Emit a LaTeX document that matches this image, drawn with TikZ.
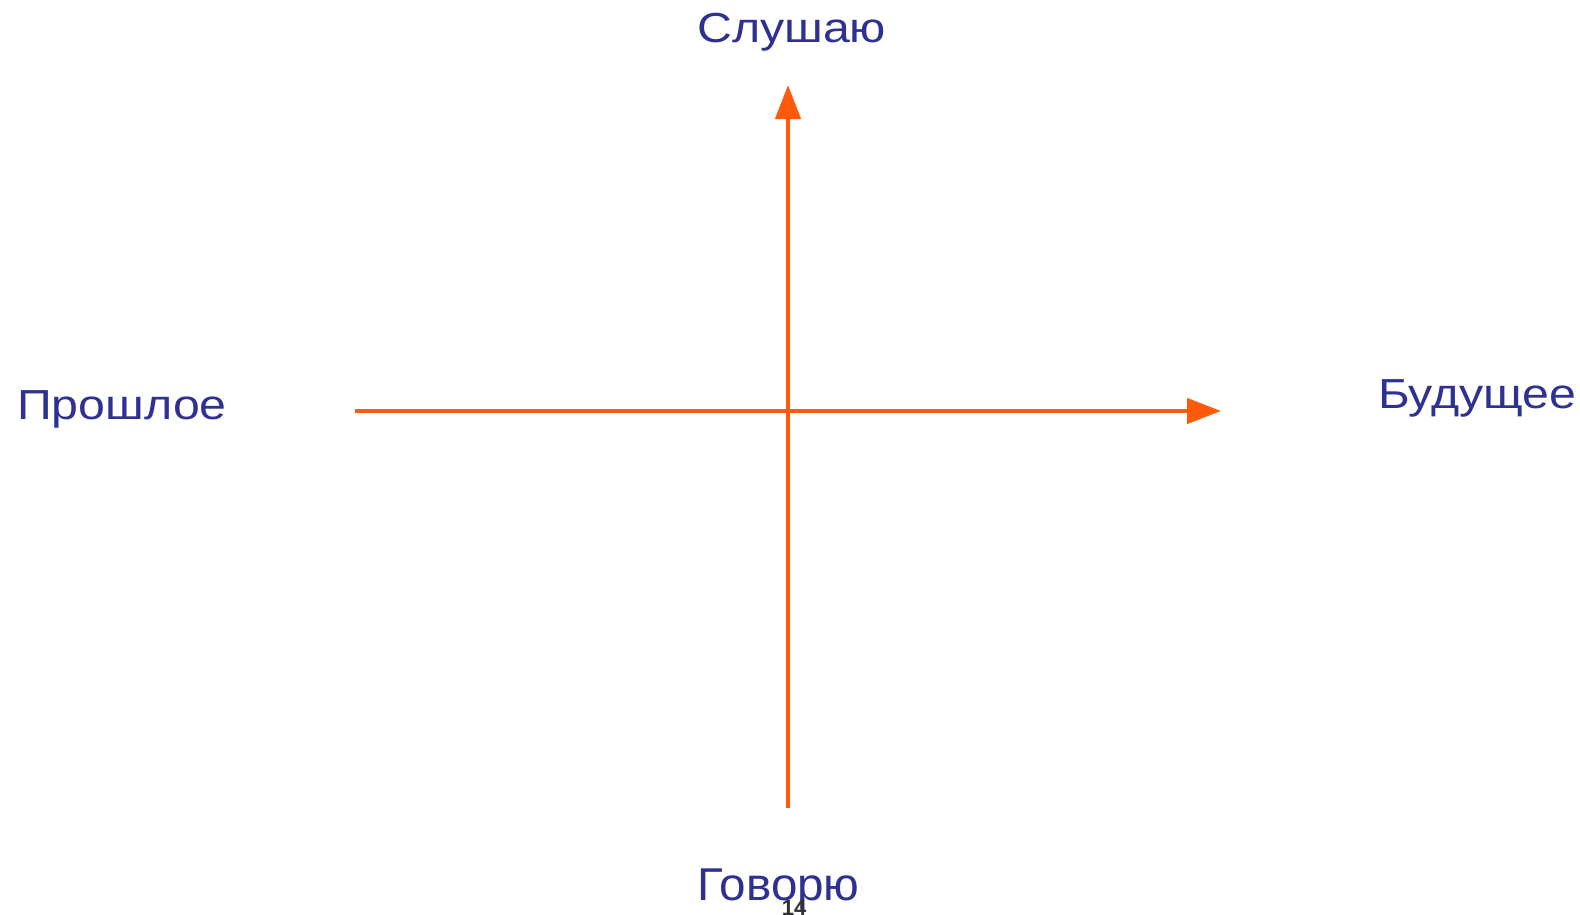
\documentclass[tikz,border=0pt]{standalone}
\usepackage{fontspec}
\setmainfont{Liberation Sans}
\newfontfamily\lblfont[FakeStretch=1.15]{Liberation Sans}
\newfontfamily\lblfontb[FakeStretch=1.035]{Liberation Sans}
\usetikzlibrary{arrows.meta}
\definecolor{axisorange}{HTML}{FF5A0A}
\definecolor{lblblue}{HTML}{2E3192}
\definecolor{numgray}{HTML}{333333}
\tikzset{
  axis/.style={draw=axisorange, line width=4.5pt, -{Triangle[length=34pt,width=25pt]}},
  lbl/.style={text=lblblue, font=\lblfont\fontsize{42}{46}\selectfont, inner sep=0pt, anchor=base west},
  lbltall/.style={lbl, font=\lblfontb\fontsize{46}{50}\selectfont},
  pagenum/.style={text=numgray, font=\bfseries\fontsize{22}{24}\selectfont, inner sep=0pt}
}
\begin{document}
\begin{tikzpicture}[x=1pt,y=-1pt]
\useasboundingbox (0,0) rectangle (1580,914);
\coordinate (vbot) at (788,808);
\coordinate (vtop) at (788,85);
\coordinate (hleft) at (355,411);
\coordinate (hright) at (1221,411);
\draw[axis] (hleft) -- (hright);
\draw[axis] (vbot) -- (vtop);
\node[lbl] (top) at (697,42) {Слушаю};
\node[lbl] (left) at (17,419) {Прошлое};
\node[lbl] (right) at (1378,408) {Будущее};
\node[lbltall] (bottom) at (697,900) {Говорю};
\node[pagenum, anchor=base] (num) at (794,915) {14};
\end{tikzpicture}
\end{document}
